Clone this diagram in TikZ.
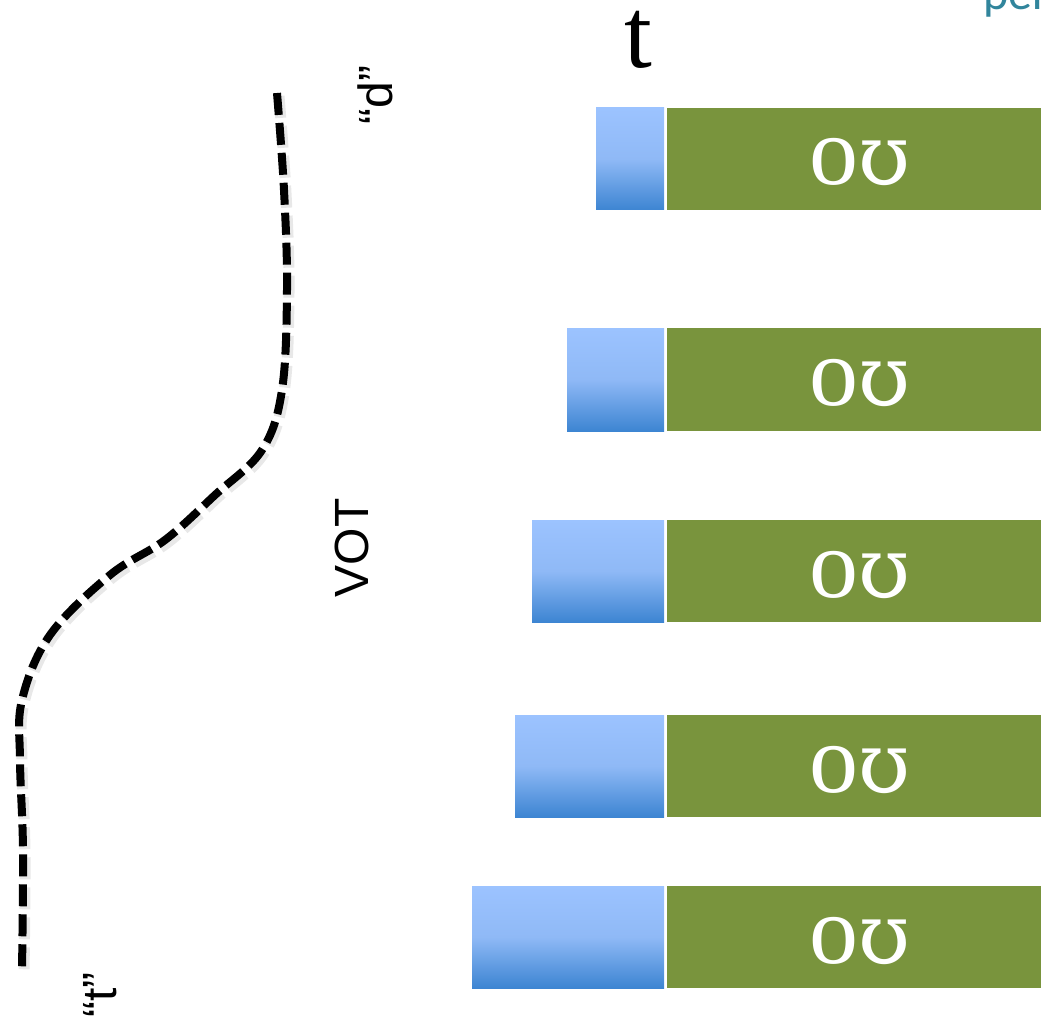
\documentclass[tikz,border=0pt]{standalone}
\usepackage{fontspec}
\setmainfont{Liberation Serif}
\newfontfamily\labfont{Liberation Sans}
\newfontfamily\calfont{Carlito}
\newfontfamily\ipafont{DejaVu Serif}
\definecolor{olivegreen}{HTML}{79943D}
\definecolor{bluetop}{HTML}{9CC3FF}
\definecolor{bluemid}{HTML}{8FB9F6}
\definecolor{bluebot}{HTML}{3D85D2}
\definecolor{tealtxt}{HTML}{31859C}
\tikzset{
  greenbox/.style={fill=olivegreen},
  bluebox/.style={top color=bluetop, bottom color=bluebot, middle color=bluemid},
  vowel/.style={text=white, anchor=base, inner sep=0pt, font=\fontsize{98}{98}\selectfont},
  sidelabel/.style={rotate=90, inner sep=0pt, font=\labfont\fontsize{48}{48}\selectfont},
  curvestyle/.style={line width=8pt, dash pattern=on 22pt off 8pt},
  shadowstyle/.style={line width=11pt, dash pattern=on 22pt off 8pt, draw=black!30, opacity=0.3}
}
\begin{document}
\begin{tikzpicture}[x=1pt,y=-1pt]
\useasboundingbox (0,0) rectangle (1041,1027);
\clip (0,0) rectangle (1041,1027);
% title texts
\node[anchor=base, inner sep=0pt, font=\fontsize{100}{100}\selectfont] (tlabel) at (638,68) {t};
\node[anchor=base west, text=tealtxt, font=\calfont\fontsize{48}{48}\selectfont, inner sep=0pt] (perlabel) at (983,10) {per};
% rows
\foreach \bl/\tp/\bt/\nm in {596/108/210/one, 567/328/431/two, 532/520/622/three, 515/715/817/four, 472/886/988/five}{
  \shade[bluebox] (\bl,\tp) rectangle (664,\bt);
  \fill[greenbox] (667,\tp) rectangle (1041,\bt);
  \node[vowel] (v\nm) at (860,{(\tp+\bt)/2+26}) {o{\ipafont\fontsize{84}{84}\selectfont ʊ}};
}
% dashed continuum curve
\begin{scope}[shift={(2,3)}]
\draw[shadowstyle] plot[smooth, tension=0.6] coordinates {(277,93) (284,190) (287,290) (282,390) (262,450) (215,495) (165,540) (110,575) (50,635) (22,700) (20,760) (23,850) (22,970)};
\end{scope}
\draw[curvestyle] plot[smooth, tension=0.6] coordinates {(277,93) (284,190) (287,290) (282,390) (262,450) (215,495) (165,540) (110,575) (50,635) (22,700) (20,760) (23,850) (22,970)};
% side labels
\node[sidelabel] (dlabel) at (375,95) {“d”};
\node[sidelabel] (votlabel) at (352,548) {VOT};
\node[sidelabel] (tbottom) at (100,995) {“t”};
\end{tikzpicture}
\end{document}
